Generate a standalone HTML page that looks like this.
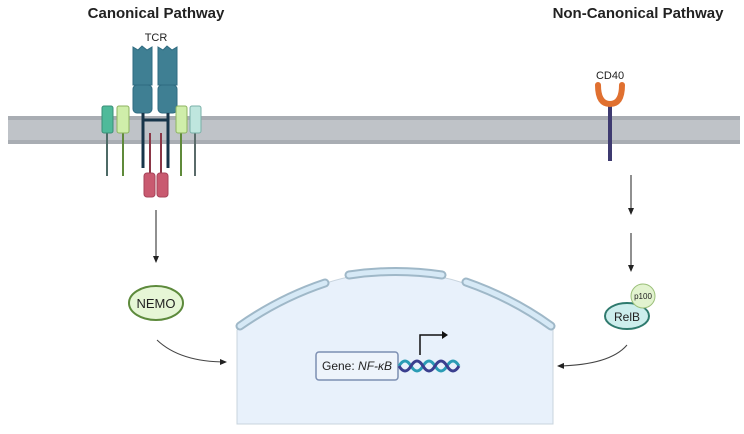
<!DOCTYPE html>
<html><head><meta charset="utf-8"><style>
html,body{margin:0;padding:0;background:#fff;}
svg{display:block;font-family:"Liberation Sans",sans-serif;}
</style></head><body>
<svg width="744" height="434" viewBox="0 0 744 434" xmlns="http://www.w3.org/2000/svg">
<defs><marker id="ah" markerWidth="8" markerHeight="8" refX="6" refY="3" orient="auto" markerUnits="userSpaceOnUse"><path d="M0,0 L7,3 L0,6 z" fill="#222"/></marker></defs>
<!-- membrane -->
<rect x="8" y="116" width="732" height="28" fill="#bfc3c8"/>
<rect x="8" y="116" width="732" height="4" fill="#a9adb3"/>
<rect x="8" y="140" width="732" height="4" fill="#a9adb3"/>
<text x="156" y="18" text-anchor="middle" font-size="15" font-weight="bold" fill="#222">Canonical Pathway</text>
<text x="638" y="18" text-anchor="middle" font-size="15" font-weight="bold" fill="#222">Non-Canonical Pathway</text>
<!-- TCR -->
<text x="156" y="41" text-anchor="middle" font-size="11" fill="#222">TCR</text>
<g fill="#3f7f93" stroke="#2f6b80" stroke-width="1">
<path d="M133,47 L138,50 L142,46 L147,50 L152,47 L152,85 L133,85 Z"/>
<rect x="133" y="85" width="19" height="28" rx="4"/>
<path d="M158,47 L163,50 L167,46 L172,50 L177,47 L177,85 L158,85 Z"/>
<rect x="158" y="85" width="19" height="28" rx="4"/>
</g>
<g stroke="#17354a" stroke-width="3"><line x1="143" y1="113" x2="143" y2="168"/><line x1="168" y1="113" x2="168" y2="168"/><line x1="143" y1="120" x2="168" y2="120"/></g>
<g stroke="#8a3646" stroke-width="2"><line x1="150" y1="133" x2="150" y2="175"/><line x1="161" y1="133" x2="161" y2="175"/></g>
<rect x="144" y="173" width="11" height="24" rx="3" fill="#c95a70" stroke="#a8445a"/>
<rect x="157" y="173" width="11" height="24" rx="3" fill="#c95a70" stroke="#a8445a"/>
<g stroke-width="2"><line x1="107" y1="133" x2="107" y2="176" stroke="#4d6a66"/><line x1="123" y1="133" x2="123" y2="176" stroke="#5f8a3a"/><line x1="181" y1="133" x2="181" y2="176" stroke="#5f8a3a"/><line x1="195" y1="133" x2="195" y2="176" stroke="#5a6b6a"/></g>
<rect x="102" y="106" width="11" height="27" rx="2" fill="#4fba9a" stroke="#3a8f77"/>
<rect x="117" y="106" width="12" height="27" rx="2" fill="#cfeeaa" stroke="#8db360"/>
<rect x="176" y="106" width="11" height="27" rx="2" fill="#cfeeaa" stroke="#8db360"/>
<rect x="190" y="106" width="11" height="27" rx="2" fill="#bfe6de" stroke="#7ab0a8"/>
<!-- canonical arrow & NEMO -->
<line x1="156" y1="210" x2="156" y2="262" stroke="#222" stroke-width="1" marker-end="url(#ah)"/>
<ellipse cx="156" cy="303" rx="27" ry="17" fill="#e6f6d6" stroke="#5d8a3c" stroke-width="2"/>
<text x="156" y="308" text-anchor="middle" font-size="13" fill="#222">NEMO</text>
<path d="M157,340 Q180,362 226,362" fill="none" stroke="#444" stroke-width="1" marker-end="url(#ah)"/>
<!-- nucleus -->
<path d="M237,330 Q395,214 553,330 L553,424 L237,424 Z" fill="#e8f1fb" stroke="#c8d4de" stroke-width="1"/>
<g fill="none" stroke-linecap="round">
<path d="M240,326 Q280,298 325,283" stroke-width="9" stroke="#9fb8c8"/>
<path d="M240,326 Q280,298 325,283" stroke-width="5" stroke="#d6e9f6"/>
<path d="M349,275 Q396,268 442,275" stroke-width="9" stroke="#9fb8c8"/>
<path d="M349,275 Q396,268 442,275" stroke-width="5" stroke="#d6e9f6"/>
<path d="M466,282 Q512,298 551,326" stroke-width="9" stroke="#9fb8c8"/>
<path d="M466,282 Q512,298 551,326" stroke-width="5" stroke="#d6e9f6"/>
</g>
<rect x="316" y="352" width="82" height="28" rx="3" fill="#eef4fb" stroke="#7c8fb2" stroke-width="1.5"/>
<text x="322" y="370" font-size="12" fill="#222">Gene: <tspan font-style="italic">NF-κB</tspan></text>
<path d="M399,366 Q405,356 411,366 T423,366 T435,366 T447,366 T459,366" fill="none" stroke="#2a9cb5" stroke-width="3"/>
<path d="M399,366 Q405,376 411,366 T423,366 T435,366 T447,366 T459,366" fill="none" stroke="#3a3f8f" stroke-width="3"/>
<path d="M420,355 L420,335 L443,335" fill="none" stroke="#111" stroke-width="1.5"/>
<path d="M442,331 L448,335 L442,339 Z" fill="#111"/>
<!-- CD40 -->
<text x="610" y="79" text-anchor="middle" font-size="11" fill="#222">CD40</text>
<line x1="610" y1="106" x2="610" y2="161" stroke="#3e3a70" stroke-width="4"/>
<path d="M598,85 Q598,104 610,104 Q622,104 622,85" fill="none" stroke="#e07030" stroke-width="6" stroke-linecap="round"/>
<line x1="631" y1="175" x2="631" y2="214" stroke="#222" stroke-width="1" marker-end="url(#ah)"/>
<line x1="631" y1="233" x2="631" y2="271" stroke="#222" stroke-width="1" marker-end="url(#ah)"/>
<ellipse cx="627" cy="316" rx="22" ry="13" fill="#cdeeed" stroke="#2f7a6e" stroke-width="2"/>
<text x="627" y="321" text-anchor="middle" font-size="12" fill="#222">RelB</text>
<circle cx="643" cy="296" r="12" fill="#e2f3cf" stroke="#9cc07a" stroke-width="1"/>
<text x="643" y="299" text-anchor="middle" font-size="8" fill="#222">p100</text>
<path d="M627,345 Q610,365 558,366" fill="none" stroke="#444" stroke-width="1" marker-end="url(#ah)"/>
</svg>
</body></html>
